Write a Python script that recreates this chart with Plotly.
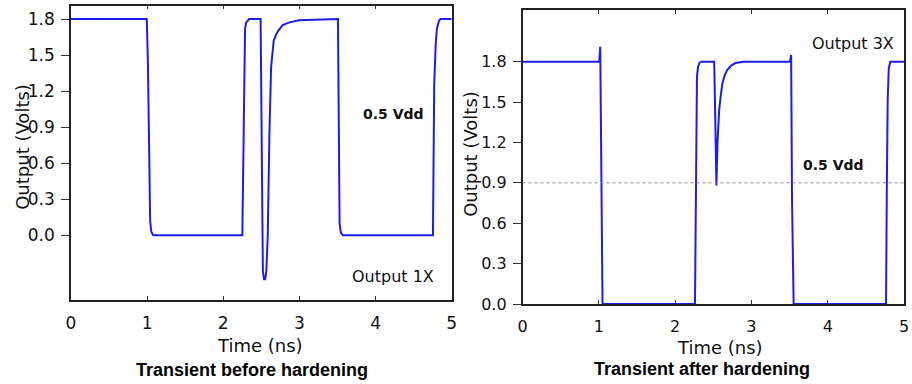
import plotly.graph_objects as go

# ---- data ----
t_before = [0.0, 0.995, 1.01, 1.025, 1.04, 1.055, 1.08, 2.25, 2.265, 2.286, 2.30, 2.34,
            2.49, 2.50, 2.51, 2.52, 2.535, 2.55, 2.565, 2.584, 2.606, 2.628, 2.662, 2.70,
            2.73, 2.78, 2.86, 2.99, 3.506, 3.515, 3.527, 3.545, 3.57, 4.753, 4.762, 4.77,
            4.79, 4.805, 4.83, 4.85, 5.0]
v_before = [1.8, 1.8, 1.45, 0.75, 0.12, 0.03, 0.0, 0.0, 0.9, 1.72, 1.77, 1.8,
            1.8, 1.2, 0.2, -0.3, -0.366, -0.366, -0.3, 0.0, 0.85, 1.40, 1.62, 1.68,
            1.71, 1.75, 1.77, 1.79, 1.8, 1.2, 0.1, 0.02, 0.0, 0.0, 0.6, 1.26,
            1.6, 1.72, 1.78, 1.8, 1.8]

t_after = [0.0, 1.005, 1.018, 1.031, 1.048, 2.26, 2.273, 2.286, 2.30, 2.317, 2.34,
           2.512, 2.525, 2.541, 2.555, 2.577, 2.60, 2.62, 2.65, 2.684, 2.73, 2.79, 2.9,
           3.506, 3.52, 3.532, 3.553, 4.764, 4.775, 4.786, 4.80, 4.82, 5.0]
v_after = [1.8, 1.8, 1.91, 1.02, 0.0, 0.0, 1.27, 1.69, 1.76, 1.79, 1.8,
           1.8, 1.4, 0.88, 1.2, 1.44, 1.56, 1.64, 1.70, 1.74, 1.77, 1.79, 1.8,
           1.8, 1.85, 0.77, 0.0, 0.0, 0.9, 1.52, 1.75, 1.8, 1.8]

x_ticks = [0, 1, 2, 3, 4, 5]
y_ticks = [0.0, 0.3, 0.6, 0.9, 1.2, 1.5, 1.8]
y_tick_text = ["0.0", "0.3", "0.6", "0.9", "1.2", "1.5", "1.8"]
half_vdd = 0.9

W, H = 912, 384
W_EFF, H_EFF = 912, 374


def px(x):
    return x / W_EFF


def py(y):
    return 1 - y / H_EFF


BLUE = "#1c1cf0"

fig = go.Figure()
fig.add_trace(go.Scatter(x=t_before, y=v_before, mode="lines",
                         line=dict(color=BLUE, width=2), xaxis="x", yaxis="y",
                         showlegend=False, hoverinfo="skip"))
fig.add_trace(go.Scatter(x=t_after, y=v_after, mode="lines",
                         line=dict(color=BLUE, width=2), xaxis="x2", yaxis="y2",
                         showlegend=False, hoverinfo="skip"))

xcommon = dict(range=[0, 5], tickvals=x_ticks, ticks="inside", ticklen=4,
               tickcolor="#333", showline=True, linecolor="#222", linewidth=1.5,
               mirror="ticks", showgrid=False, zeroline=False,
               ticklabelstandoff=7, ticklabeloverflow="allow")
ycommon = dict(tickvals=y_ticks, ticktext=y_tick_text, ticks="outside", ticklen=8,
               tickcolor="#333", showline=True, linecolor="#222", linewidth=1.5,
               mirror=True, showgrid=False, zeroline=False, ticklabelstandoff=3)

fig.update_layout(
    width=W, height=H, margin=dict(l=0, r=0, t=0, b=0),
    paper_bgcolor="white", plot_bgcolor="white",
    xaxis=dict(domain=[px(66.7), px(451.7)], anchor="y",
               tickfont=dict(family="DejaVu Sans", size=17, color="#111"), **xcommon),
    yaxis=dict(domain=[py(300), py(5.7)], anchor="x", range=[-0.538, 1.911],
               tickfont=dict(family="DejaVu Sans", size=17, color="#111"), **ycommon),
    xaxis2=dict(domain=[px(523.3), min(1.0, px(909))], anchor="y2",
                tickfont=dict(family="DejaVu Sans", size=16, color="#111"), **xcommon),
    yaxis2=dict(domain=[py(304), py(10)], anchor="x2", range=[0, 2.184],
                tickfont=dict(family="DejaVu Sans", size=16, color="#111"), **ycommon),
)

fig.add_shape(type="line", xref="x2 domain", yref="y2", x0=0, x1=1,
              y0=half_vdd, y1=half_vdd, line=dict(color="#888", width=1, dash="dot"))


def ann(text, x, y, size, family="DejaVu Sans", bold=False, angle=0, color="#111"):
    fig.add_annotation(text=f"<b>{text}</b>" if bold else text,
                       x=px(x), y=py(y), xref="paper", yref="paper",
                       showarrow=False, xanchor="center", yanchor="middle",
                       textangle=angle, font=dict(family=family, size=size, color=color))


ann("Output (Volts)", 17, 147, 18, angle=-90)
ann("Output (Volts)", 470, 154, 18, angle=-90)
ann("Time (ns)", 258, 345, 18)
ann("Time (ns)", 723, 347, 18)
ann("Transient before hardening", 250, 370, 18, family="Liberation Sans", bold=True, color="#000")
ann("Transient after hardening", 705, 369, 18, family="Liberation Sans", bold=True, color="#000")
ann("0.5 Vdd", 393, 114, 14, bold=True)
ann("Output 1X", 392, 276, 16)
ann("0.5 Vdd", 838, 165, 14, bold=True)
ann("Output 3X", 857, 43, 16)

fig.write_html("out.html")
